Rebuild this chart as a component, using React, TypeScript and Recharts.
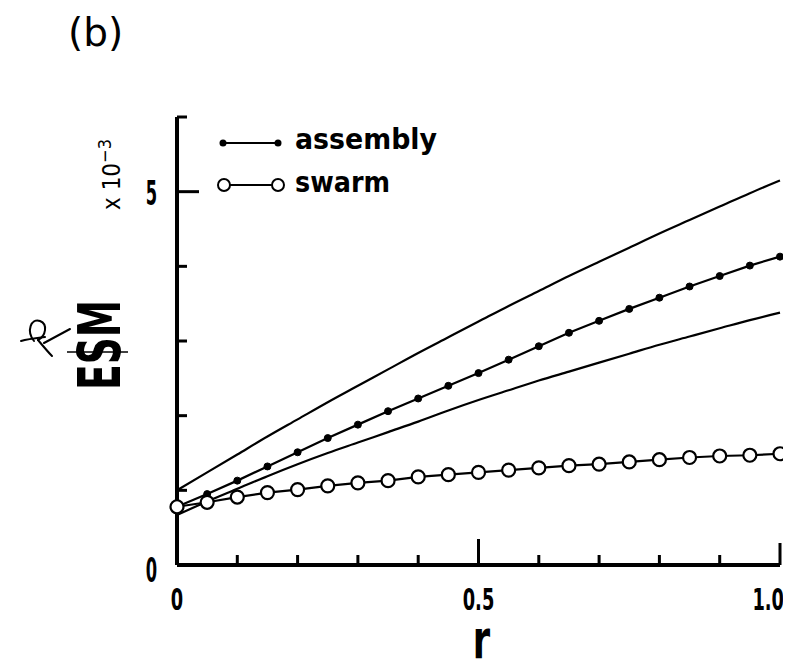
import React from 'react';
import { LineChart, Line, XAxis, YAxis, Legend, Label } from 'recharts';

// ---- data ----
const rValues = [0, 0.05, 0.1, 0.15, 0.2, 0.25, 0.3, 0.35, 0.4, 0.45, 0.5, 0.55, 0.6, 0.65, 0.7, 0.75, 0.8, 0.85, 0.9, 0.95, 1.0];
const assembly = [0.78, 0.95, 1.13, 1.32, 1.51, 1.70, 1.88, 2.06, 2.23, 2.40, 2.57, 2.75, 2.93, 3.11, 3.27, 3.43, 3.58, 3.73, 3.87, 4.01, 4.13];
const swarm = [0.78, 0.84, 0.91, 0.97, 1.01, 1.06, 1.10, 1.13, 1.18, 1.21, 1.24, 1.27, 1.30, 1.33, 1.35, 1.38, 1.41, 1.44, 1.46, 1.47, 1.49];
const upperBound = [1.00, 1.24, 1.48, 1.72, 1.95, 2.18, 2.40, 2.62, 2.84, 3.05, 3.26, 3.47, 3.67, 3.87, 4.06, 4.25, 4.44, 4.62, 4.80, 4.98, 5.15];
const lowerBound = [0.67, 0.85, 1.02, 1.19, 1.35, 1.50, 1.64, 1.78, 1.92, 2.07, 2.21, 2.34, 2.47, 2.59, 2.71, 2.83, 2.95, 3.06, 3.17, 3.28, 3.38];

const xTicks = [0, 0.1, 0.2, 0.3, 0.4, 0.5, 0.6, 0.7, 0.8, 0.9, 1.0];
const xTickLabels = ['0', '', '', '', '', '0.5', '', '', '', '', '1.0'];
const yTicks = [0, 1, 2, 3, 4, 5, 6];
const yTickLabels = ['0', '', '', '', '', '5', ''];

const seriesNames = { assembly: 'assembly', swarm: 'swarm' };
const titleText = '(b)';
const xAxisTitle = 'r';
const yAxisTitle = 'ESM';
const yMultiplier = 'x 10';
const yMultiplierExp = '−3';

const data = rValues.map((r, i) => ({
  r,
  assembly: assembly[i],
  swarm: swarm[i],
  upper: upperBound[i],
  lower: lowerBound[i],
}));

const FONT = "'DejaVu Sans Condensed', 'DejaVu Sans', sans-serif";

const XTick = (props: any) => {
  const { x, y, payload } = props;
  const v = payload.value;
  const label = xTickLabels[xTicks.indexOf(v)] ?? '';
  const len = v === 0 ? 0 : v === 0.5 ? 26 : v === 1 ? 22 : 10;
  const tx = v === 1 ? x + 4 : x;
  return (
    <g>
      {len > 0 && <line x1={x} x2={x} y1={y} y2={y - len} stroke="#000" strokeWidth={3} />}
      {label && (
        <text
          transform={`translate(${tx},${y + 45}) scale(0.66,1)`}
          textAnchor={v === 1 ? 'end' : 'middle'}
          fontFamily={FONT}
          fontWeight="bold"
          fontSize={30}
          fill="#000"
        >
          {label}
        </text>
      )}
    </g>
  );
};

const YTick = (props: any) => {
  const { x, y, payload } = props;
  const v = payload.value;
  const label = yTickLabels[yTicks.indexOf(v)] ?? '';
  const len = v === 0 ? 0 : v === 5 ? 22 : 10;
  return (
    <g>
      {len > 0 && <line x1={x} x2={x + len} y1={y} y2={y} stroke="#000" strokeWidth={3} />}
      {label && (
        <text
          transform={`translate(${x - 20},${v === 0 ? y + 17 : y + 13}) scale(0.55,1)`}
          textAnchor="end"
          fontFamily={FONT}
          fontWeight="bold"
          fontSize={33}
          fill="#000"
        >
          {label}
        </text>
      )}
    </g>
  );
};

const YTitle = (props: any) => {
  const vb = props.viewBox || { x: 0, y: 0, width: 0, height: 0 };
  const axisRight = vb.x + vb.width; // y axis line position
  const top = vb.y;
  const esmX = axisRight - 57;
  const esmY = top + 228;
  const multX = axisRight - 57;
  const multY = top + 93;
  return (
    <g>
      <text
        transform={`translate(${esmX},${esmY}) rotate(-90)`}
        textAnchor="middle"
        fontFamily={FONT}
        fontWeight="bold"
        fontSize={58}
        textLength={90}
        lengthAdjust="spacingAndGlyphs"
        fill="#000"
      >
        {yAxisTitle}
      </text>
      <line x1={esmX - 53} y1={esmY + 7} x2={esmX + 8} y2={esmY + 7} stroke="#000" strokeWidth={1.6} />
      <g fill="none" stroke="#000" strokeWidth={2} strokeLinecap="round">
        <path d={`M ${esmX - 99} ${esmY - 4} C ${esmX - 92} ${esmY - 6}, ${esmX - 83} ${esmY - 7}, ${esmX - 75} ${esmY - 8}`} />
        <path d={`M ${esmX - 86} ${esmY - 4} C ${esmX - 94} ${esmY - 14}, ${esmX - 89} ${esmY - 27}, ${esmX - 80} ${esmY - 24} C ${esmX - 72} ${esmY - 21}, ${esmX - 74} ${esmY - 9}, ${esmX - 82} ${esmY - 5}`} />
        <path d={`M ${esmX - 82} ${esmY - 5} C ${esmX - 77} ${esmY + 1}, ${esmX - 72} ${esmY + 7}, ${esmX - 68} ${esmY + 11}`} />
        <path d={`M ${esmX - 76} ${esmY - 2} L ${esmX - 50} ${esmY - 16}`} />
      </g>
      <text
        transform={`translate(${multX},${multY}) rotate(-90)`}
        textAnchor="start"
        fontFamily={FONT}
        fontSize={24}
        fill="#000"
      >
        <tspan>{yMultiplier}</tspan>
        <tspan dy={-9} fontSize={18}>{yMultiplierExp}</tspan>
      </text>
    </g>
  );
};

const XTitle = (props: any) => {
  const vb = props.viewBox || { x: 0, y: 0, width: 0, height: 0 };
  const cx = vb.x + vb.width / 2 + 3;
  return (
    <text
      transform={`translate(${cx},${vb.y + 93}) scale(0.85,1.15)`}
      textAnchor="middle"
      fontFamily={FONT}
      fontWeight="bold"
      fontSize={46}
      fill="#000"
    >
      {xAxisTitle}
    </text>
  );
};

const LegendBox = (props: any) => {
  const payload = (props.payload || []).filter((p: any) => p.type !== 'none');
  return (
    <svg width={300} height={90} style={{ display: 'block', overflow: 'visible' }}>
      {payload.map((p: any) => {
        const key = p.dataKey;
        const isSwarm = key === 'swarm';
        const cy = isSwarm ? 73 : 31;
        return (
          <g key={String(key)}>
            <line x1={8} x2={63} y1={cy} y2={cy} stroke="#000" strokeWidth={2} />
            {isSwarm ? (
              <>
                <circle cx={9} cy={cy} r={6} fill="#fff" stroke="#000" strokeWidth={2} />
                <circle cx={63} cy={cy} r={6} fill="#fff" stroke="#000" strokeWidth={2} />
              </>
            ) : (
              <>
                <circle cx={8} cy={cy} r={3.5} fill="#000" />
                <circle cx={63} cy={cy} r={3.5} fill="#000" />
              </>
            )}
            <text
              x={80}
              y={isSwarm ? 80 : 37}
              fontFamily={FONT}
              fontWeight="bold"
              fontSize={28}
              textLength={isSwarm ? 95 : 142}
              lengthAdjust="spacingAndGlyphs"
              fill="#000"
            >
              {p.value}
            </text>
          </g>
        );
      })}
    </svg>
  );
};

export default function App() {
  return (
    <div style={{ width: 783, height: 661 }}>
      <LineChart
        width={783}
        height={661}
        data={data}
        margin={{ top: 109, right: 11, bottom: 44, left: 109 }}
      >
        <text x={60} y={38} fontFamily="'DejaVu Sans', sans-serif" fontSize={39} fill="#000">
          {titleText}
        </text>
        <XAxis
          dataKey="r"
          type="number"
          domain={[0, 1]}
          ticks={xTicks}
          interval={0}
          height={60}
          tickSize={0}
          tickMargin={0}
          tickLine={false}
          axisLine={{ stroke: '#000', strokeWidth: 4 }}
          tick={<XTick />}
        >
          <Label content={<XTitle />} />
        </XAxis>
        <YAxis
          type="number"
          domain={[0, 6]}
          ticks={yTicks}
          interval={0}
          width={60}
          tickSize={0}
          tickMargin={0}
          tickLine={false}
          axisLine={{ stroke: '#000', strokeWidth: 4 }}
          tick={<YTick />}
        >
          <Label content={<YTitle />} />
        </YAxis>
        <Legend
          verticalAlign="middle"
          align="center"
          layout="horizontal"
          wrapperStyle={{ top: 104, left: 207, width: 300, height: 90 }}
          content={<LegendBox />}
        />
        <Line dataKey="upper" type="monotone" stroke="#000" strokeWidth={2.2} dot={false} activeDot={false} legendType="none" isAnimationActive={false} />
        <Line dataKey="lower" type="monotone" stroke="#000" strokeWidth={2.2} dot={false} activeDot={false} legendType="none" isAnimationActive={false} />
        <Line
          dataKey="assembly"
          name={seriesNames.assembly}
          type="linear"
          stroke="#000"
          strokeWidth={2.2}
          dot={{ r: 3.5, fill: '#000', stroke: '#000', strokeWidth: 1 }}
          activeDot={false}
          isAnimationActive={false}
        />
        <Line
          dataKey="swarm"
          name={seriesNames.swarm}
          type="linear"
          stroke="#000"
          strokeWidth={2.2}
          dot={{ r: 6.5, fill: '#fff', stroke: '#000', strokeWidth: 2.2 }}
          activeDot={false}
          isAnimationActive={false}
        />
      </LineChart>
    </div>
  );
}
